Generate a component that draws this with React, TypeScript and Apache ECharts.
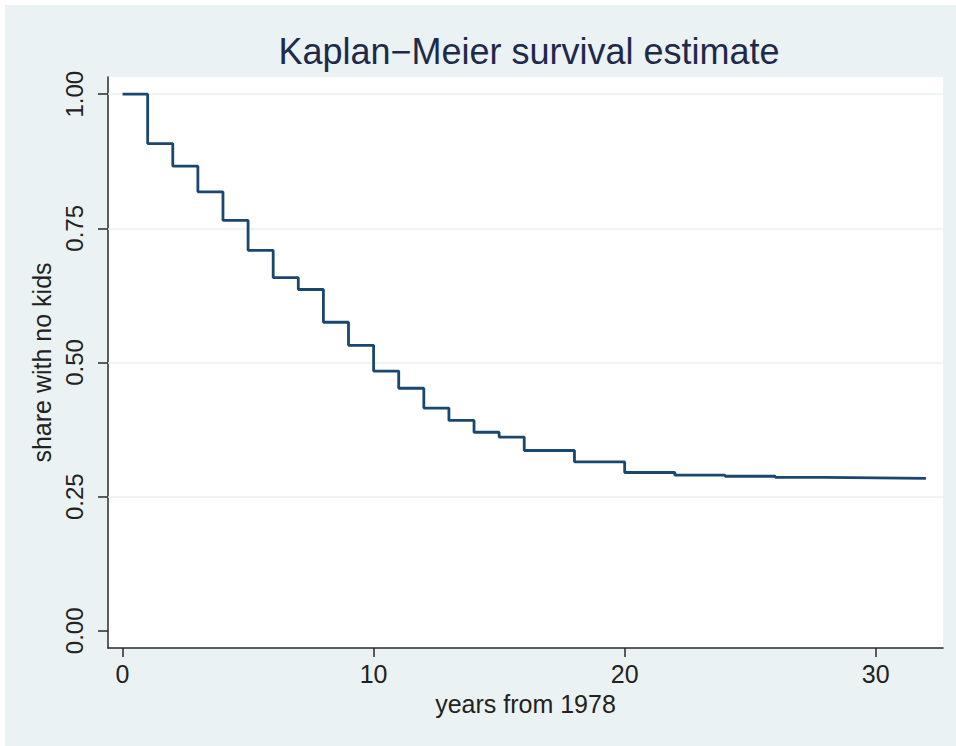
import React, { useEffect, useRef } from "react";
import * as echarts from "echarts";

const years = [0, 1, 2, 3, 4, 5, 6, 7, 8, 9, 10, 11, 12, 13, 14, 15, 16, 18, 20, 22, 24, 26, 28, 30, 32];
const survival = [1.0, 0.908, 0.866, 0.818, 0.765, 0.709, 0.658, 0.636, 0.575, 0.532, 0.484, 0.452, 0.415, 0.392, 0.37, 0.361, 0.336, 0.315, 0.295, 0.29, 0.288, 0.286, 0.285, 0.284, 0.284];
const xTicks = [0, 10, 20, 30];
const yTicks = [0, 0.25, 0.5, 0.75, 1];
const gridLines = [0.25, 0.5, 0.75, 1];

const FONT = "'Liberation Sans', Arial, Helvetica, sans-serif";

export default function App() {
  const ref = useRef<HTMLDivElement>(null);
  useEffect(() => {
    document.body.style.margin = "0";
    const chart = echarts.init(ref.current!, null, { renderer: "svg" });
    chart.setOption({
      animation: false,
      backgroundColor: "#EAF2F3",
      title: {
        text: "Kaplan\u2212Meier survival estimate",
        left: 519,
        textAlign: "center",
        top: 23,
        textStyle: { fontFamily: FONT, fontSize: 36, fontWeight: "normal", color: "#1E2A4A" },
      },
      grid: {
        left: 103,
        top: 72,
        right: 13,
        bottom: 98,
        show: true,
        backgroundColor: "#ffffff",
        borderWidth: 0,
      },
      xAxis: {
        type: "value",
        min: -0.58,
        max: 32.68,
        name: "years from 1978",
        nameLocation: "middle",
        nameGap: 43,
        nameTextStyle: { fontFamily: FONT, fontSize: 25, color: "#222" },
        axisLine: { show: true, onZero: false, lineStyle: { color: "#2a2a2a", width: 1.5 } },
        axisTick: { show: true, length: 9, customValues: xTicks, lineStyle: { color: "#2a2a2a", width: 1.5 } },
        axisLabel: { customValues: xTicks, margin: 13, fontFamily: FONT, fontSize: 25, color: "#222" },
        splitLine: { show: false },
      },
      yAxis: {
        type: "value",
        min: -0.032,
        max: 1.032,
        name: "share with no kids",
        nameLocation: "middle",
        nameGap: 46,
        nameTextStyle: { fontFamily: FONT, fontSize: 25, color: "#222" },
        axisLine: { show: true, onZero: false, lineStyle: { color: "#2a2a2a", width: 1.5 } },
        axisTick: { show: true, length: 10, customValues: yTicks, lineStyle: { color: "#2a2a2a", width: 1.5 } },
        axisLabel: {
          customValues: yTicks,
          rotate: 90,
          margin: 22,
          fontFamily: FONT,
          fontSize: 24,
          color: "#222",
          formatter: (v: number) => v.toFixed(2),
        },
        splitLine: { show: false },
      },
      series: [
        {
          type: "line",
          step: "end",
          data: years.map((t, i) => [t, survival[i]]),
          showSymbol: false,
          symbol: "none",
          lineStyle: { color: "#1A476F", width: 2.8 },
          z: 5,
          markLine: {
            silent: true,
            symbol: "none",
            label: { show: false },
            lineStyle: { color: "#EAF2F3", width: 1.5, type: "solid" },
            z: 1,
            data: gridLines.map((g) => ({ yAxis: g })),
          },
        },
      ],
    });
    return () => chart.dispose();
  }, []);
  return (
    <div style={{ width: 956, height: 746, background: "#ffffff", position: "relative" }}>
      <div ref={ref} style={{ position: "absolute", left: 5, top: 5, width: 951, height: 741 }} />
    </div>
  );
}
